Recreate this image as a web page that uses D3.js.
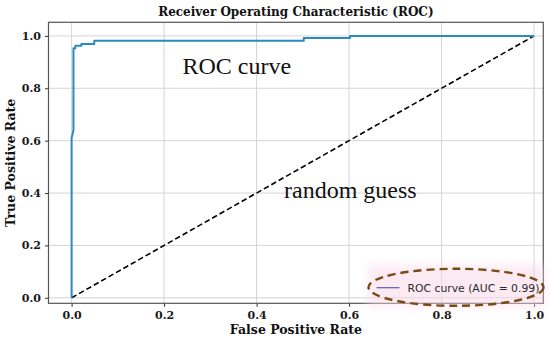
<!DOCTYPE html>
<html>
<head>
<meta charset="utf-8">
<script src="https://cdn.jsdelivr.net/npm/d3@7"></script>
<style>
  body { margin: 0; background: #fff; }
  svg { display: block; }
</style>
</head>
<body>
<svg id="chart"></svg>
<script>
// ROC points
const fpr = [0, 0, 0.004, 0.004, 0.008, 0.008, 0.021, 0.021, 0.049, 0.049, 0.502, 0.502, 0.602, 0.602, 1.0];
const tpr = [0, 0.61, 0.64, 0.953, 0.953, 0.962, 0.962, 0.969, 0.969, 0.982, 0.982, 0.992, 0.992, 1.0, 1.0];
const guess = [0, 1];
const xTicks = [0, 0.2, 0.4, 0.6, 0.8, 1.0];
const yTicks = [0, 0.2, 0.4, 0.6, 0.8, 1.0];
const legendLabel = "ROC curve (AUC = 0.99)";

function roc_chart(wrapper) {
    const width = 550, height = 341;
    const margin = ({top: 22.3, right: 6.7, bottom: 37.7, left: 48.5});
    const svg = d3.select(wrapper)
        .attr("width", width)
        .attr("height", height)
        .attr("viewBox", [0, 0, width, height]);

    const x = d3.scaleLinear()
        .domain([-0.05, 1.02])
        .range([margin.left, width - margin.right]);
    const y = d3.scaleLinear()
        .domain([-0.021, 1.052])
        .range([height - margin.bottom, margin.top]);

    const serif = "'DejaVu Serif', serif";

    // grid
    const grid = svg.append("g")
        .attr("stroke", "#cfcfcf")
        .attr("stroke-width", 0.9);
    grid.selectAll(".gx").data(xTicks).join("line")
        .attr("x1", d => x(d)).attr("x2", d => x(d))
        .attr("y1", margin.top).attr("y2", height - margin.bottom);
    grid.selectAll(".gy").data(yTicks).join("line")
        .attr("y1", d => y(d)).attr("y2", d => y(d))
        .attr("x1", margin.left).attr("x2", width - margin.right);

    // axes
    const xAxis = g => g
        .attr("transform", `translate(0,${height - margin.bottom})`)
        .call(d3.axisBottom(x).tickValues(xTicks).tickFormat(d3.format(".1f")).tickSize(3.5).tickPadding(4))
        .call(g => g.select(".domain").remove());
    const yAxis = g => g
        .attr("transform", `translate(${margin.left},0)`)
        .call(d3.axisLeft(y).tickValues(yTicks).tickFormat(d3.format(".1f")).tickSize(3.5).tickPadding(4))
        .call(g => g.select(".domain").remove());

    svg.append("g").call(xAxis);
    svg.append("g").call(yAxis);
    svg.selectAll(".tick line").attr("stroke", "#333");
    svg.selectAll(".tick text")
        .attr("fill", "#1a1a1a")
        .style("font-family", serif)
        .style("font-weight", "bold")
        .style("font-size", "11px");

    // random guess diagonal
    const line = d3.line().x(d => x(d[0])).y(d => y(d[1]));
    svg.append("path")
        .datum(guess.map(v => [v, v]))
        .attr("d", line)
        .attr("fill", "none")
        .attr("stroke", "#000")
        .attr("stroke-width", 1.6)
        .attr("stroke-dasharray", "5.5,3");

    // ROC curve
    svg.append("path")
        .datum(fpr.map((f, i) => [f, tpr[i]]))
        .attr("d", line)
        .attr("fill", "none")
        .attr("stroke", "#2a8ac0")
        .attr("stroke-width", 2)
        .attr("stroke-linejoin", "round");

    // frame
    svg.append("rect")
        .attr("x", margin.left).attr("y", margin.top)
        .attr("width", width - margin.left - margin.right)
        .attr("height", height - margin.top - margin.bottom)
        .attr("fill", "none")
        .attr("stroke", "#555")
        .attr("stroke-width", 1.2);

    // title and labels
    svg.append("text")
        .attr("x", (margin.left + width - margin.right) / 2)
        .attr("y", 16)
        .attr("text-anchor", "middle")
        .attr("fill", "#111")
        .style("font", `bold 12px ${serif}`)
        .text("Receiver Operating Characteristic (ROC)");
    svg.append("text")
        .attr("x", (margin.left + width - margin.right) / 2)
        .attr("y", 334)
        .attr("text-anchor", "middle")
        .attr("fill", "#111")
        .style("font", `bold 12.5px ${serif}`)
        .text("False Positive Rate");
    svg.append("text")
        .attr("transform", `translate(15,${(margin.top + height - margin.bottom) / 2}) rotate(-90)`)
        .attr("text-anchor", "middle")
        .attr("fill", "#111")
        .style("font", `bold 12.5px ${serif}`)
        .text("True Positive Rate");

    // annotations
    svg.append("text")
        .attr("x", 182.5).attr("y", 73.5)
        .attr("fill", "#111")
        .style("font", "24px 'Liberation Serif', serif")
        .text("ROC curve");
    svg.append("text")
        .attr("x", 284).attr("y", 197.5)
        .attr("fill", "#111")
        .style("font", "24px 'Liberation Serif', serif")
        .text("random guess");

    // legend with pink glow and dashed ellipse
    const defs = svg.append("defs");
    defs.append("filter").attr("id", "blur")
        .attr("x", "-20%").attr("y", "-50%").attr("width", "140%").attr("height", "200%")
        .append("feGaussianBlur").attr("stdDeviation", 4);
    svg.append("rect")
        .attr("x", 368).attr("y", 265).attr("width", 176).attr("height", 42)
        .attr("fill", "#fbd9ea")
        .attr("opacity", 0.55)
        .attr("filter", "url(#blur)");
    svg.append("line")
        .attr("x1", 376.5).attr("x2", 399.5)
        .attr("y1", 287.7).attr("y2", 287.7)
        .attr("stroke", "#5c5cae")
        .attr("stroke-width", 1.2);
    svg.append("text")
        .attr("x", 407.5).attr("y", 291.5)
        .attr("fill", "#2a2a2a")
        .style("font", "10.8px 'DejaVu Sans', sans-serif")
        .text(legendLabel);
    svg.append("ellipse")
        .attr("cx", 456).attr("cy", 287.3)
        .attr("rx", 87.5).attr("ry", 18.5)
        .attr("fill", "none")
        .attr("stroke", "#7a4a14")
        .attr("stroke-width", 2.4)
        .attr("stroke-dasharray", "8,5");

    return svg.node();
}

roc_chart("#chart");
</script>
</body>
</html>
